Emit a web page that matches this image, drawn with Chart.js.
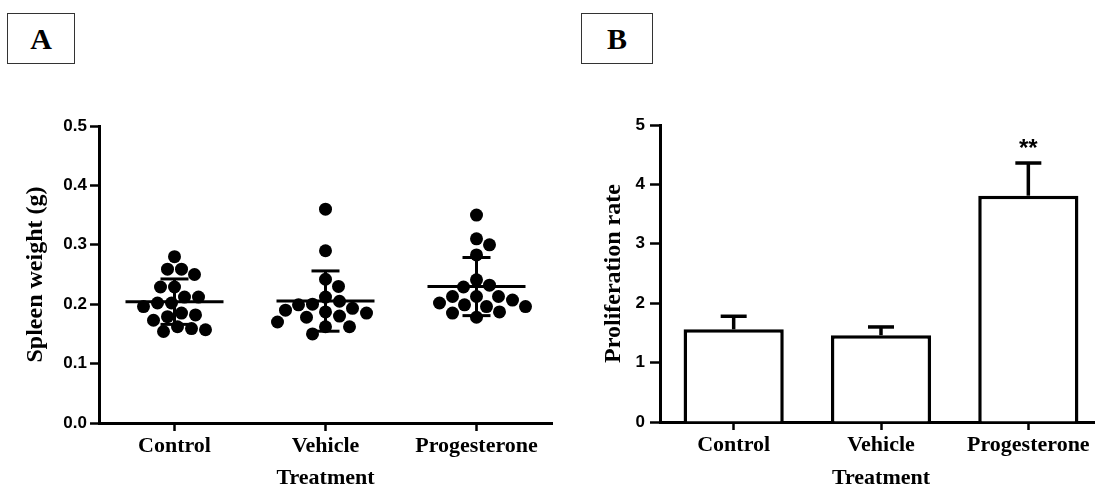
<!DOCTYPE html>
<html>
<head>
<meta charset="utf-8">
<script src="https://cdn.jsdelivr.net/npm/chart.js@4.4.1/dist/chart.umd.min.js"></script>
<style>
  html, body { margin: 0; padding: 0; background: #fff; overflow: hidden; width: 1095px; height: 489px; position: relative; }
  canvas { position: absolute; top: 0; }
  .tag { position: absolute; top: 13px; height: 51px; box-sizing: border-box; border: 1.5px solid #333;
         font: bold 30px "Liberation Serif", serif; color: #000;
         display: flex; align-items: center; justify-content: center; }
</style>
</head>
<body>
<div class="tag" style="left:7px;width:68px">A</div>
<div class="tag" style="left:581px;width:72px">B</div>
<canvas id="chartA" width="560" height="489" style="left:0"></canvas>
<canvas id="chartB" width="550" height="489" style="left:560px"></canvas>
<script>
const categories = ["Control", "Vehicle", "Progesterone"];

// panel A - spleen weight, one value per animal
const spleenControl = [0.28, 0.259, 0.259, 0.25, 0.229, 0.229, 0.212, 0.212, 0.202, 0.196,
  0.202, 0.182, 0.185, 0.173, 0.179, 0.159, 0.154, 0.157, 0.162];
const spleenVehicle = [0.36, 0.29, 0.242, 0.23, 0.212, 0.205, 0.2, 0.199, 0.193, 0.19,
  0.187, 0.185, 0.18, 0.178, 0.17, 0.162, 0.162, 0.15];
const spleenProgesterone = [0.35, 0.31, 0.3, 0.283, 0.241, 0.232, 0.229, 0.213, 0.213, 0.213,
  0.207, 0.202, 0.199, 0.196, 0.196, 0.187, 0.185, 0.178];
const spleenTicks = [0, 0.1, 0.2, 0.3, 0.4, 0.5];

// panel B - proliferation rate, mean and upper error
const prolifMeans = [1.56, 1.46, 3.81];
const prolifErrors = [0.22, 0.14, 0.55];
const prolifMarks = ["", "", "**"];
const prolifTicks = [0, 1, 2, 3, 4, 5];

const spleenGroups = [spleenControl, spleenVehicle, spleenProgesterone];

Chart.defaults.color = "#000";
Chart.defaults.animation = false;

const tickFont = { family: "'Liberation Sans', Arial, sans-serif", size: 17, weight: "bold" };
const catFont = { family: "'Liberation Serif', serif", size: 22, weight: "bold", lineHeight: 1 };
const titleFont = { family: "'Liberation Serif', serif", size: 24, weight: "bold", lineHeight: 1 };

function mean(a) {
  return a.reduce((s, v) => s + v, 0) / a.length;
}
function sd(a) {
  const m = mean(a);
  return Math.sqrt(a.reduce((s, v) => s + (v - m) * (v - m), 0) / (a.length - 1));
}

// simple beeswarm so the dots of one group don't pile up
function swarm(values, center) {
  const pxX = 151, pxY = 594, minDist = 14;
  const placed = [];
  const out = [];
  const order = values.map((v, i) => i).sort((a, b) => values[b] - values[a]);
  order.forEach((i) => {
    const py = values[i] * pxY;
    let dx = 0;
    for (let k = 0; k < 400; k++) {
      dx = (k % 2 ? 1 : -1) * Math.ceil(k / 2);
      const hit = placed.some((p) => (p.x - dx) ** 2 + (p.y - py) ** 2 < minDist * minDist);
      if (!hit) break;
    }
    placed.push({ x: dx, y: py });
    out.push({ x: center + dx / pxX, y: values[i] });
  });
  return out;
}

function line(ctx, x1, y1, x2, y2) {
  ctx.beginPath();
  ctx.moveTo(x1, y1);
  ctx.lineTo(x2, y2);
  ctx.stroke();
}

const meanSdPlugin = {
  id: "meanSd",
  afterDatasetsDraw(chart) {
    const { ctx, scales: { x, y } } = chart;
    ctx.save();
    ctx.strokeStyle = "#000";
    ctx.lineWidth = 3;
    spleenGroups.forEach((vals, i) => {
      const m = mean(vals), s = sd(vals);
      const cx = x.getPixelForValue(i + 1);
      const ym = y.getPixelForValue(m);
      const yt = y.getPixelForValue(m + s);
      const yb = y.getPixelForValue(m - s);
      line(ctx, cx - 49, ym, cx + 49, ym);
      line(ctx, cx, yt, cx, yb);
      line(ctx, cx - 14, yt, cx + 14, yt);
      line(ctx, cx - 14, yb, cx + 14, yb);
    });
    ctx.restore();
  },
};

const errorPlugin = {
  id: "errorBars",
  afterDatasetsDraw(chart) {
    const { ctx, scales: { x, y } } = chart;
    ctx.save();
    ctx.strokeStyle = "#000";
    ctx.lineWidth = 3.5;
    ctx.fillStyle = "#000";
    prolifMeans.forEach((m, i) => {
      const cx = x.getPixelForValue(i);
      const yb = y.getPixelForValue(m);
      const yt = y.getPixelForValue(m + prolifErrors[i]);
      line(ctx, cx, yb, cx, yt);
      line(ctx, cx - 13, yt, cx + 13, yt);
      if (prolifMarks[i]) {
        ctx.font = "bold 24px 'Liberation Sans', Arial, sans-serif";
        ctx.textAlign = "center";
        ctx.textBaseline = "middle";
        ctx.fillText(prolifMarks[i], cx, yt - 14);
      }
    });
    ctx.restore();
  },
};

const axisGrid = { drawOnChartArea: false, drawTicks: true, tickLength: 9, tickWidth: 2.5, tickColor: "#000" };
const axisBorder = { display: true, color: "#000", width: 3 };

new Chart(document.getElementById("chartA"), {
  type: "scatter",
  data: {
    datasets: spleenGroups.map((vals, i) => ({
      data: swarm(vals, i + 1),
      pointRadius: 6.5,
      pointHoverRadius: 6.5,
      backgroundColor: "#000",
      borderWidth: 0,
    })),
  },
  options: {
    responsive: false,
    layout: { padding: { left: 0, right: 8, top: 126, bottom: 0 } },
    plugins: { legend: { display: false }, tooltip: { enabled: false } },
    scales: {
      x: {
        type: "linear",
        min: 0.5,
        max: 3.5,
        afterBuildTicks: (s) => { s.ticks = categories.map((c, i) => ({ value: i + 1 })); },
        afterFit: (s) => { s.height = 66; },
        ticks: { font: catFont, padding: 4, maxRotation: 0, callback: (v) => categories[v - 1] },
        grid: { ...axisGrid, tickLength: 8 },
        border: axisBorder,
        title: { display: true, text: "Treatment", font: catFont, padding: 0 },
      },
      y: {
        min: 0,
        max: 0.5,
        afterBuildTicks: (s) => { s.ticks = spleenTicks.map((v) => ({ value: v })); },
        afterFit: (s) => { s.width = 99; },
        ticks: { font: tickFont, padding: 3, callback: (v) => v.toFixed(1) },
        grid: axisGrid,
        border: axisBorder,
        title: { display: true, text: "Spleen weight (g)", font: titleFont, padding: { top: 24, bottom: 0 } },
      },
    },
  },
  plugins: [meanSdPlugin],
});

new Chart(document.getElementById("chartB"), {
  type: "bar",
  data: {
    labels: categories,
    datasets: [{
      data: prolifMeans,
      backgroundColor: "#fff",
      borderColor: "#000",
      borderWidth: 3.5,
      barPercentage: 0.68,
      categoryPercentage: 1,
    }],
  },
  options: {
    responsive: false,
    layout: { padding: { left: 0, right: 8, top: 125, bottom: 0 } },
    plugins: { legend: { display: false }, tooltip: { enabled: false } },
    scales: {
      x: {
        afterFit: (s) => { s.height = 67; },
        ticks: { font: catFont, padding: 4, maxRotation: 0 },
        grid: { ...axisGrid, tickLength: 8, offset: false },
        border: axisBorder,
        title: { display: true, text: "Treatment", font: catFont, padding: 0 },
      },
      y: {
        min: 0,
        max: 5,
        afterBuildTicks: (s) => { s.ticks = prolifTicks.map((v) => ({ value: v })); },
        afterFit: (s) => { s.width = 100; },
        ticks: { font: tickFont, padding: 5 },
        grid: { ...axisGrid, tickLength: 10 },
        border: axisBorder,
        title: { display: true, text: "Proliferation rate", font: titleFont, padding: { top: 42, bottom: 0 } },
      },
    },
  },
  plugins: [errorPlugin],
});
</script>
</body>
</html>
